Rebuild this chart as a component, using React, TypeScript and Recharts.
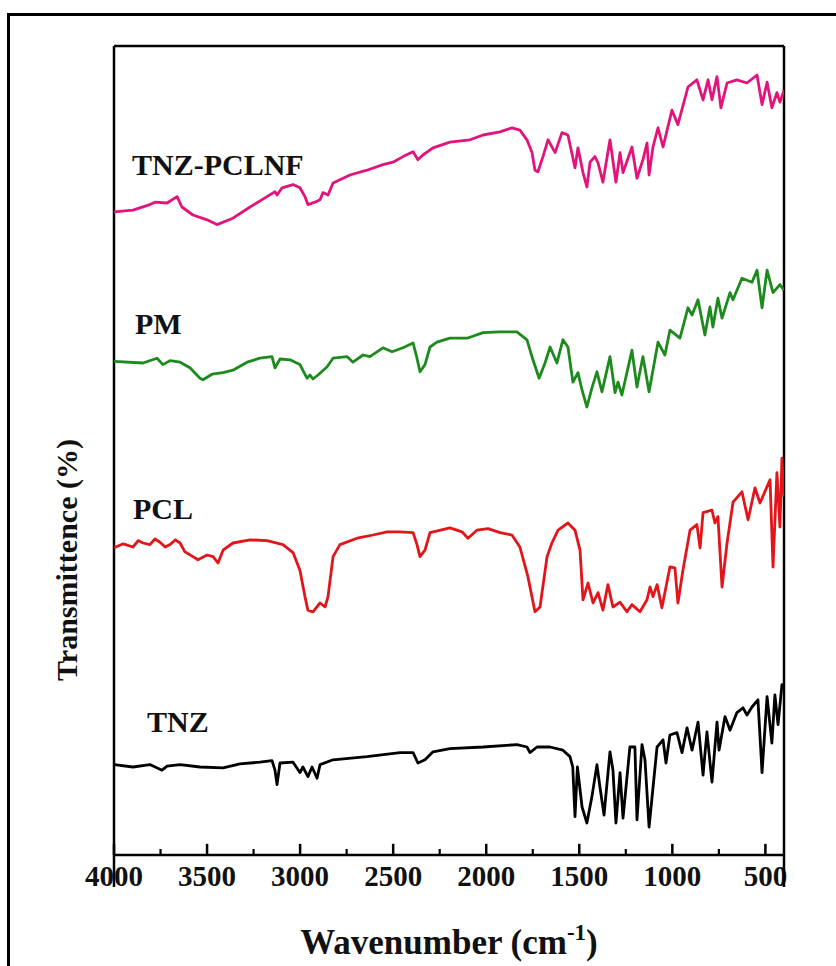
import React from 'react';
import { LineChart, Line, XAxis, YAxis, ReferenceLine } from 'recharts';

// Wavenumber (cm-1), transmittance (offset, arbitrary units)
const tnzPclnf: [number, number][] = [
  [4000, 80.4], [3898, 80.6], [3807, 81.3], [3780, 81.6], [3715, 81.5], [3661, 82.3], [3635, 81.0],
  [3576, 80.0], [3500, 79.4], [3447, 78.8], [3361, 79.6], [3269, 81.0], [3178, 82.3], [3135, 82.9],
  [3124, 82.5], [3097, 83.4], [3038, 83.8], [3001, 83.4], [2974, 82.3], [2958, 81.3], [2920, 81.6],
  [2893, 81.9], [2877, 82.8], [2850, 82.5], [2823, 84.0], [2732, 85.0], [2641, 85.6], [2555, 86.3],
  [2501, 86.6], [2447, 87.3], [2393, 87.9], [2367, 86.9], [2340, 87.5], [2286, 88.4], [2195, 89.1],
  [2087, 89.4], [2017, 90.0], [1926, 90.4], [1862, 90.9], [1819, 90.6], [1781, 89.4], [1754, 87.8],
  [1738, 85.6], [1722, 85.4], [1695, 87.3], [1668, 89.4], [1630, 87.8], [1593, 90.3], [1561, 90.0],
  [1523, 85.9], [1507, 88.4], [1480, 85.3], [1459, 83.5], [1442, 86.6], [1416, 87.3], [1399, 86.5],
  [1373, 84.1], [1335, 89.4], [1303, 84.1], [1281, 87.8], [1265, 85.3], [1217, 88.5], [1190, 84.6],
  [1158, 86.9], [1136, 89.0], [1125, 85.0], [1104, 88.5], [1077, 90.9], [1050, 88.5], [1002, 93.1],
  [970, 91.3], [916, 96.0], [868, 96.9], [835, 94.4], [808, 96.9], [787, 94.4], [760, 97.3],
  [739, 93.4], [706, 96.5], [653, 96.9], [599, 96.5], [545, 97.5], [518, 93.8], [491, 96.6],
  [465, 93.4], [438, 95.3], [422, 94.1], [400, 95.6],
];

const pm: [number, number][] = [
  [4000, 61.7], [3844, 61.5], [3769, 62.1], [3737, 61.3], [3699, 61.8], [3645, 61.6], [3592, 60.9],
  [3538, 59.6], [3522, 59.4], [3473, 60.1], [3414, 60.3], [3361, 60.6], [3285, 61.6], [3216, 62.1],
  [3151, 62.3], [3135, 60.9], [3108, 62.0], [3054, 61.9], [3001, 61.3], [2963, 59.6], [2947, 60.0],
  [2931, 59.5], [2904, 60.0], [2856, 61.0], [2823, 62.1], [2748, 62.3], [2716, 61.6], [2662, 62.5],
  [2625, 62.3], [2555, 63.4], [2506, 62.9], [2447, 63.4], [2393, 64.0], [2372, 62.1], [2356, 60.4],
  [2329, 61.3], [2302, 63.5], [2265, 64.1], [2195, 64.6], [2103, 64.6], [2017, 65.3], [1926, 65.4],
  [1835, 65.4], [1781, 64.4], [1749, 61.9], [1716, 59.6], [1684, 61.5], [1657, 63.5], [1620, 61.5],
  [1588, 64.4], [1561, 63.5], [1534, 59.1], [1507, 60.3], [1485, 58.1], [1459, 56.0], [1432, 58.4],
  [1405, 60.4], [1378, 57.9], [1335, 62.3], [1308, 57.8], [1292, 59.1], [1271, 57.5], [1217, 63.1],
  [1190, 58.5], [1158, 62.3], [1125, 57.9], [1077, 64.1], [1040, 62.5], [1013, 65.6], [959, 64.6],
  [916, 68.4], [894, 67.5], [862, 69.4], [825, 65.0], [798, 68.5], [782, 66.0], [755, 69.6],
  [733, 67.1], [690, 70.3], [674, 69.4], [626, 72.1], [572, 71.6], [545, 73.1], [518, 68.4],
  [491, 73.1], [459, 70.3], [422, 71.3], [400, 70.6],
];

const pcl: [number, number][] = [
  [4000, 38.4], [3950, 38.9], [3898, 38.5], [3870, 39.3], [3844, 39.0], [3807, 38.8], [3780, 39.5],
  [3753, 39.1], [3725, 38.5], [3699, 38.8], [3670, 39.4], [3645, 39.0], [3619, 37.9], [3576, 37.3],
  [3549, 36.9], [3500, 37.5], [3468, 37.3], [3441, 36.5], [3414, 38.1], [3361, 39.0], [3269, 39.4],
  [3178, 39.3], [3092, 38.8], [3038, 37.8], [3001, 35.6], [2974, 32.3], [2958, 30.6], [2931, 30.4],
  [2893, 31.5], [2866, 31.0], [2850, 32.3], [2823, 37.3], [2786, 38.8], [2694, 39.6], [2608, 40.0],
  [2533, 40.4], [2463, 40.4], [2393, 40.3], [2372, 38.8], [2356, 37.3], [2329, 38.1], [2302, 40.3],
  [2195, 40.9], [2130, 40.4], [2098, 39.6], [2050, 40.6], [1990, 40.8], [1926, 40.3], [1862, 40.0],
  [1819, 38.5], [1776, 34.8], [1738, 30.4], [1711, 31.0], [1673, 37.3], [1647, 39.0], [1614, 40.6],
  [1561, 41.5], [1523, 40.6], [1496, 38.1], [1480, 31.9], [1453, 34.0], [1426, 31.5], [1399, 32.8],
  [1373, 30.6], [1346, 33.8], [1319, 31.0], [1281, 31.6], [1244, 30.4], [1217, 31.3], [1174, 30.4],
  [1136, 31.9], [1120, 33.5], [1104, 32.3], [1082, 33.8], [1056, 30.9], [1013, 36.0], [986, 35.9],
  [970, 31.5], [943, 35.6], [905, 40.6], [868, 41.3], [851, 38.4], [835, 42.8], [787, 43.1],
  [771, 41.5], [755, 42.3], [733, 33.5], [706, 39.0], [674, 44.1], [626, 45.4], [593, 41.9],
  [556, 45.9], [529, 44.0], [475, 46.9], [459, 36.0], [438, 47.8], [422, 41.0], [411, 49.6],
  [400, 44.8],
];

const tnz: [number, number][] = [
  [4000, 11.3], [3898, 11.0], [3807, 11.3], [3742, 10.6], [3715, 11.1], [3645, 11.3], [3538, 11.0],
  [3414, 10.9], [3323, 11.4], [3216, 11.6], [3151, 11.8], [3135, 10.6], [3124, 8.8], [3108, 11.5],
  [3038, 11.6], [3001, 10.3], [2985, 11.0], [2958, 9.8], [2936, 11.0], [2909, 9.6], [2893, 11.3],
  [2823, 11.9], [2641, 12.3], [2463, 12.8], [2393, 12.8], [2367, 11.5], [2329, 11.9], [2286, 12.9],
  [2195, 13.3], [2017, 13.5], [1835, 13.8], [1781, 13.5], [1765, 12.8], [1727, 13.5], [1657, 13.5],
  [1588, 13.1], [1550, 12.3], [1535, 11.0], [1523, 4.8], [1510, 11.0], [1485, 6.0], [1459, 4.0],
  [1432, 7.3], [1405, 11.3], [1389, 8.5], [1367, 5.0], [1335, 12.9], [1319, 10.6], [1303, 4.0],
  [1281, 10.3], [1265, 4.6], [1228, 13.5], [1201, 13.5], [1190, 4.4], [1163, 13.8], [1147, 11.9],
  [1125, 3.5], [1082, 13.5], [1050, 14.4], [1034, 11.5], [1013, 15.0], [975, 15.3], [948, 12.8],
  [921, 15.9], [894, 13.1], [862, 16.6], [835, 10.0], [814, 15.4], [787, 9.1], [760, 16.6],
  [749, 13.1], [717, 17.3], [690, 15.6], [653, 17.8], [620, 18.4], [599, 17.5], [572, 18.5],
  [540, 19.4], [518, 10.3], [491, 19.8], [465, 14.0], [449, 20.0], [432, 16.3], [411, 21.3],
  [400, 20.9],
];

const xTicks = [4000, 3750, 3500, 3250, 3000, 2750, 2500, 2250, 2000, 1750, 1500, 1250, 1000, 750, 500, 400];
const majorTicks = [4000, 3500, 3000, 2500, 2000, 1500, 1000, 500];
const minorTicks = [3750, 3250, 2750, 2250, 1750, 1250, 750];
const yMax = 101.125;
// tick mark lengths in y-axis units (the y scale is 8 px per unit)
const majorLen = 1.4;
const minorLen = 0.75;

const seriesLabels = [
  { text: 'TNZ-PCLNF', x: 132, y: 175 },
  { text: 'PM', x: 135, y: 334 },
  { text: 'PCL', x: 133, y: 519 },
  { text: 'TNZ', x: 147, y: 732 },
];

const toRows = (arr: [number, number][]) => arr.map(([w, t]) => ({ w, t }));

const FONT = '"Liberation Serif", "Times New Roman", serif';

const BottomTick = (props: any) => {
  const { x, y, payload } = props;
  const v = payload.value as number;
  const major = majorTicks.includes(v);
  const edge = v === 4000 || v === 400;
  return (
    <g>
      {edge && <line x1={x} x2={x} y1={y} y2={y + 32} stroke="#000" strokeWidth={2.5} />}
      {major && (
        <text x={x} y={y + 31} textAnchor="middle" fontFamily={FONT} fontWeight="bold" fontSize={29} fill="#111">
          {v}
        </text>
      )}
    </g>
  );
};

export default function App() {
  return (
    <div style={{ position: 'absolute', left: 0, top: 0, width: 836, height: 966, background: '#fff', overflow: 'hidden' }}>
      <div
        style={{
          position: 'absolute', left: 7, top: 13, width: 840, height: 970,
          borderLeft: '3px solid #000', borderTop: '3px solid #000', boxSizing: 'border-box',
        }}
      />
      <div style={{ position: 'absolute', left: 0, top: 0 }}>
        <LineChart width={836} height={966} margin={{ top: 46, right: 52, left: 114, bottom: 0 }}>
          <XAxis
            dataKey="w"
            type="number"
            domain={[400, 4000]}
            reversed
            allowDataOverflow
            ticks={xTicks}
            interval={0}
            tickLine={false}
            tickSize={0}
            tickMargin={0}
            tick={<BottomTick />}
            axisLine={{ stroke: '#000', strokeWidth: 2.5 }}
            height={111}
          />
          <YAxis type="number" domain={[0, yMax]} allowDataOverflow hide />
          <ReferenceLine y={yMax} stroke="#000" strokeWidth={2.5} ifOverflow="visible" />
          <ReferenceLine x={4000} stroke="#000" strokeWidth={2.5} ifOverflow="visible" />
          <ReferenceLine x={400} stroke="#000" strokeWidth={2.5} ifOverflow="visible" />
          {majorTicks.map((v) => (
            <ReferenceLine
              key={`M${v}`}
              segment={[{ x: v, y: 0 }, { x: v, y: majorLen }]}
              stroke="#000"
              strokeWidth={2.5}
              ifOverflow="visible"
            />
          ))}
          {minorTicks.map((v) => (
            <ReferenceLine
              key={`m${v}`}
              segment={[{ x: v, y: 0 }, { x: v, y: minorLen }]}
              stroke="#000"
              strokeWidth={2.2}
              ifOverflow="visible"
            />
          ))}
          <Line data={toRows(tnzPclnf)} dataKey="t" type="linear" stroke="#E2137B" strokeWidth={2.8} strokeLinejoin="round" dot={false} isAnimationActive={false} />
          <Line data={toRows(pm)} dataKey="t" type="linear" stroke="#1C8A1C" strokeWidth={2.8} strokeLinejoin="round" dot={false} isAnimationActive={false} />
          <Line data={toRows(pcl)} dataKey="t" type="linear" stroke="#E3141A" strokeWidth={2.8} strokeLinejoin="round" dot={false} isAnimationActive={false} />
          <Line data={toRows(tnz)} dataKey="t" type="linear" stroke="#000000" strokeWidth={2.8} strokeLinejoin="round" dot={false} isAnimationActive={false} />
        </LineChart>
      </div>
      <svg width={836} height={966} style={{ position: 'absolute', left: 0, top: 0, pointerEvents: 'none' }}>
        {seriesLabels.map((l) => (
          <text key={l.text} x={l.x} y={l.y} fontFamily={FONT} fontWeight="bold" fontSize={30} fill="#111">
            {l.text}
          </text>
        ))}
        <text x={449} y={954} textAnchor="middle" fontFamily={FONT} fontWeight="bold" fontSize={35} fill="#111">
          Wavenumber (cm
          <tspan fontSize={23} dy={-14}>-1</tspan>
          <tspan dy={14}>)</tspan>
        </text>
        <text
          transform="translate(77,560) rotate(-90)"
          x={0}
          y={0}
          textAnchor="middle"
          fontFamily={FONT}
          fontWeight="bold"
          fontSize={30}
          fill="#111"
        >
          Transmittence (%)
        </text>
      </svg>
    </div>
  );
}
